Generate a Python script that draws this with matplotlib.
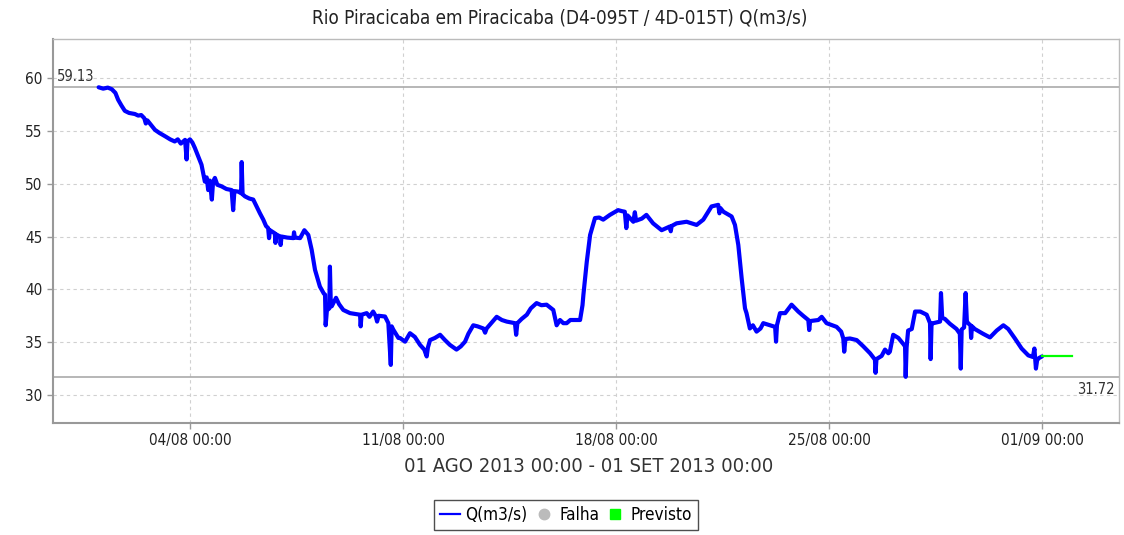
import datetime as dt
import matplotlib
matplotlib.use("Agg")
import matplotlib.pyplot as plt
import matplotlib.dates as mdates
from matplotlib.lines import Line2D

plt.rcParams['font.family'] = ['DejaVu Sans']
plt.rcParams['font.stretch'] = 'condensed'

# Observed discharge: days since 01/08/2013 00:00 and flow in m3/s
obs_days = [
    0.00, 0.15, 0.30, 0.43, 0.55, 0.64, 0.75, 0.86, 1.00, 1.19, 1.30, 1.40, 1.50, 1.55, 1.60,
    1.85, 2.00, 2.18, 2.35, 2.50, 2.60, 2.70, 2.84, 2.89, 2.92, 3.00, 3.08, 3.16, 3.27, 3.38,
    3.49, 3.55, 3.60, 3.65, 3.72, 3.76, 3.82, 3.90, 4.04, 4.20, 4.37, 4.42, 4.46, 4.59, 4.68,
    4.70, 4.73, 4.81, 4.95, 5.08, 5.19, 5.30, 5.41, 5.50, 5.57, 5.60, 5.63, 5.79, 5.81, 5.84,
    5.96, 5.98, 6.01, 6.20, 6.40, 6.42, 6.45, 6.62, 6.76, 6.89, 7.00, 7.11, 7.27, 7.40, 7.44,
    7.46, 7.50, 7.58, 7.60, 7.63, 7.66, 7.80, 7.90, 8.04, 8.26, 8.59, 8.61, 8.64, 8.81, 8.90,
    9.02, 9.10, 9.15, 9.20, 9.41, 9.52, 9.60, 9.63, 9.68, 9.85, 9.90, 10.07, 10.23, 10.39, 10.56,
    10.70, 10.78, 10.82, 10.89, 11.05, 11.22, 11.38, 11.54, 11.76, 11.90, 12.04, 12.15, 12.31, 12.45, 12.64,
    12.70, 12.75, 12.90, 13.08, 13.25, 13.41, 13.68, 13.72, 13.76, 13.90, 14.07, 14.20, 14.39, 14.55, 14.72,
    14.94, 15.05, 15.16, 15.27, 15.38, 15.50, 15.60, 15.71, 15.82, 15.90, 15.93, 16.04, 16.15, 16.31, 16.45,
    16.58, 16.80, 17.07, 17.20, 17.29, 17.34, 17.38, 17.57, 17.62, 17.66, 17.85, 18.00, 18.22, 18.50, 18.77,
    18.80, 18.83, 18.99, 19.32, 19.65, 19.87, 20.14, 20.36, 20.40, 20.43, 20.53, 20.80, 20.91, 21.02, 21.13,
    21.24, 21.29, 21.40, 21.50, 21.62, 21.75, 21.84, 22.06, 22.23, 22.26, 22.29, 22.39, 22.56, 22.77, 22.99,
    23.15, 23.32, 23.35, 23.38, 23.65, 23.76, 23.92, 24.25, 24.40, 24.47, 24.50, 24.54, 24.69, 24.91, 25.13,
    25.35, 25.51, 25.53, 25.56, 25.73, 25.84, 25.95, 26.00, 26.11, 26.28, 26.45, 26.50, 26.52, 26.55, 26.60,
    26.72, 26.83, 27.00, 27.21, 27.32, 27.34, 27.37, 27.43, 27.65, 27.68, 27.72, 27.81, 27.97, 28.19, 28.30,
    28.33, 28.36, 28.44, 28.49, 28.53, 28.57, 28.65, 28.67, 28.70, 28.79, 29.06, 29.29, 29.51, 29.73, 29.89,
    30.11, 30.33, 30.55, 30.70, 30.75, 30.78, 30.80, 30.84, 30.90, 31.00,
]
obs_flow = [
    59.13, 59.00, 59.10, 58.95, 58.60, 57.95, 57.40, 56.90, 56.70, 56.60, 56.45, 56.50, 56.20, 55.70, 56.00,
    55.10, 54.80, 54.50, 54.20, 54.00, 54.20, 53.80, 54.15, 52.30, 54.00, 54.20, 53.90, 53.40, 52.60, 51.80,
    50.20, 50.60, 49.40, 50.30, 48.50, 50.20, 50.55, 49.90, 49.75, 49.50, 49.40, 47.50, 49.30, 49.25, 49.10,
    52.05, 49.00, 48.80, 48.60, 48.50, 47.85, 47.20, 46.60, 46.00, 45.80, 44.85, 45.60, 45.30, 44.40, 45.20,
    45.00, 44.20, 45.00, 44.90, 44.85, 45.40, 44.90, 44.85, 45.60, 45.15, 43.75, 41.85, 40.27, 39.60, 39.50,
    36.60, 38.00, 38.20, 42.15, 38.40, 38.40, 39.20, 38.60, 38.05, 37.75, 37.60, 36.50, 37.60, 37.75, 37.40,
    37.90, 37.50, 36.95, 37.50, 37.43, 36.80, 32.85, 36.50, 36.20, 35.40, 35.40, 35.05, 35.85, 35.50, 34.75,
    34.30, 33.65, 34.50, 35.20, 35.40, 35.70, 35.20, 34.75, 34.30, 34.60, 35.05, 35.80, 36.60, 36.50, 36.30,
    35.90, 36.30, 36.80, 37.40, 37.10, 36.95, 36.80, 35.70, 36.80, 37.20, 37.60, 38.20, 38.70, 38.50, 38.55,
    38.05, 36.60, 37.10, 36.80, 36.80, 37.10, 37.10, 37.10, 37.10, 38.50, 39.50, 42.60, 45.15, 46.75, 46.80,
    46.60, 47.05, 47.50, 47.40, 47.35, 45.80, 47.00, 46.40, 47.30, 46.50, 46.70, 47.05, 46.25, 45.60, 45.95,
    45.50, 46.00, 46.25, 46.40, 46.10, 46.60, 47.85, 48.00, 47.20, 47.70, 47.35, 46.90, 46.10, 44.20, 41.05,
    38.20, 37.75, 36.30, 36.60, 36.00, 36.30, 36.80, 36.60, 36.45, 35.05, 36.60, 37.75, 37.75, 38.55, 37.90,
    37.50, 37.10, 36.15, 37.00, 37.10, 37.40, 36.80, 36.45, 36.00, 35.35, 34.10, 35.30, 35.35, 35.20, 34.60,
    33.95, 33.35, 32.10, 33.40, 33.70, 34.30, 33.95, 34.10, 35.70, 35.40, 34.80, 34.60, 31.72, 34.50, 36.10,
    36.25, 37.90, 37.90, 37.60, 36.80, 33.40, 36.80, 36.80, 36.95, 39.65, 37.30, 37.20, 36.75, 36.25, 35.80,
    32.50, 36.20, 36.40, 39.65, 37.00, 36.80, 36.60, 35.40, 36.50, 36.25, 35.80, 35.45, 36.10, 36.60, 36.25,
    35.35, 34.40, 33.75, 33.60, 34.40, 33.20, 32.50, 33.30, 33.50, 33.65,
]

# Forecast (Previsto)
fc_days = [31.0, 32.0]
fc_flow = [33.65, 33.65]

start = dt.datetime(2013, 8, 1)
tick_dates = [dt.datetime(2013, 8, 4), dt.datetime(2013, 8, 11), dt.datetime(2013, 8, 18),
              dt.datetime(2013, 8, 25), dt.datetime(2013, 9, 1)]
y_ticks = [30, 35, 40, 45, 50, 55, 60]

title = "Rio Piracicaba em Piracicaba (D4-095T / 4D-015T) Q(m3/s)"
period = "01 AGO 2013 00:00 - 01 SET 2013 00:00"


def to_dates(days):
    return [start + dt.timedelta(days=d) for d in days]


fig = plt.figure(figsize=(11.24, 5.35), dpi=100)
ax = fig.add_axes([53 / 1124, 1 - 423 / 535, (1119 - 53) / 1124, (423 - 39) / 535])

gray = '#999999'
ax.grid(True, color='#d0d0d0', linestyle=(0, (3, 3)), linewidth=0.8)
ax.set_axisbelow(True)

ax.plot(to_dates(obs_days), obs_flow, color='#0000ff', linewidth=3.0,
        solid_joinstyle='round', solid_capstyle='round', zorder=3)
ax.plot(to_dates(fc_days), fc_flow, color='#00ff00', linewidth=1.6, zorder=4)

q_max = max(obs_flow)
q_min = min(obs_flow)
ax.axhline(q_max, color='#aaaaaa', linewidth=1.2, zorder=2)
ax.axhline(q_min, color='#aaaaaa', linewidth=1.2, zorder=2)
ax.text(0.004, q_max + 0.3, f"{q_max:.2f}", transform=ax.get_yaxis_transform(),
        ha='left', va='bottom', fontsize=10.5, color='#333333')
ax.text(0.996, q_min - 0.5, f"{q_min:.2f}", transform=ax.get_yaxis_transform(),
        ha='right', va='top', fontsize=10.5, color='#333333')

ax.set_xlim(start - dt.timedelta(days=1.5), start + dt.timedelta(days=33.53))
ax.set_ylim(27.35, 63.7)
ax.set_xticks(tick_dates)
ax.xaxis.set_major_formatter(mdates.DateFormatter('%d/%m %H:%M'))
ax.set_yticks(y_ticks)

for s in ax.spines.values():
    s.set_color('#bbbbbb')
    s.set_linewidth(1.0)
ax.spines['left'].set_color(gray)
ax.spines['bottom'].set_color(gray)
ax.spines['left'].set_linewidth(1.5)
ax.spines['bottom'].set_linewidth(1.5)
ax.tick_params(axis='both', colors=gray, labelcolor='#222222', labelsize=11, length=4, width=1)

fig.text(560 / 1124, 1 - 18 / 535, title, ha='center', va='center', fontsize=13.5, color='#222222')
fig.text(589 / 1124, 1 - 467 / 535, period, ha='center', va='center', fontsize=14.5, color='#333333')

handles = [
    Line2D([], [], color='#0000ff', linewidth=1.6),
    Line2D([], [], color='#bbbbbb', marker='o', linestyle='none', markersize=7.5),
    Line2D([], [], color='#00ff00', marker='s', linestyle='none', markersize=7.5),
]
leg = fig.legend(handles, ['Q(m3/s)', 'Falha', 'Previsto'], loc='center',
                 bbox_to_anchor=(566 / 1124, 1 - 515 / 535), ncol=3, frameon=True,
                 fancybox=False, edgecolor='#222222', fontsize=12.3, handlelength=1.2,
                 handletextpad=0.3, columnspacing=0.35, borderpad=0.35)
leg.get_frame().set_linewidth(1.0)

fig.savefig('out.png', dpi=100)
